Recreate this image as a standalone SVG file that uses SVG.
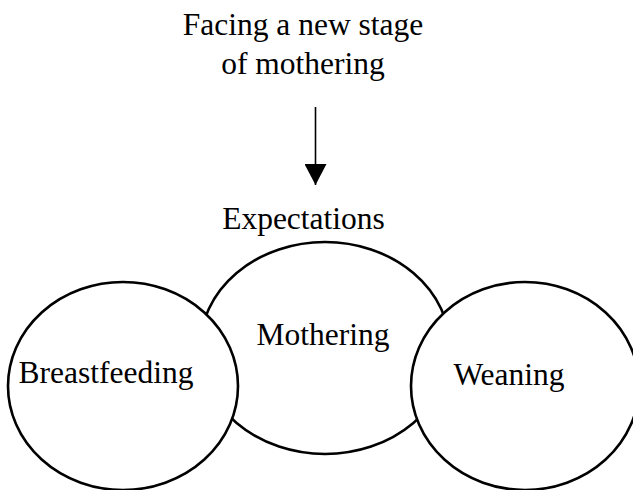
<svg xmlns="http://www.w3.org/2000/svg" width="633" height="490" viewBox="0 0 633 490">
<style>
text{font-family:"Liberation Serif","Times New Roman",serif;font-size:31.5px;fill:#000;text-anchor:middle}
.node{fill:#fff;stroke:#000;stroke-width:2.6}
</style>
<defs>
<marker id="ah" markerUnits="userSpaceOnUse" markerWidth="22" markerHeight="22" refX="21" refY="11" orient="auto">
<path d="M0,0 L21,11 L0,22 Z" fill="#000"/>
</marker>
</defs>
<rect width="633" height="490" fill="#fff"/>
<g id="title">
<text x="303" y="35">Facing a new stage</text>
<text x="303" y="74">of mothering</text>
</g>
<g id="connectors">
<line x1="315.5" y1="107" x2="315.5" y2="185" stroke="#000" stroke-width="1.6" marker-end="url(#ah)"/>
</g>
<g id="expectations">
<text x="303.5" y="229">Expectations</text>
</g>
<g id="mothering">
<ellipse class="node" cx="325" cy="348" rx="125" ry="106"/>
<text x="323" y="345">Mothering</text>
</g>
<g id="breastfeeding">
<ellipse class="node" cx="123" cy="386" rx="115" ry="104"/>
<text x="106" y="383">Breastfeeding</text>
</g>
<g id="weaning">
<ellipse class="node" cx="525" cy="386" rx="114" ry="104"/>
<text x="509" y="385">Weaning</text>
</g>
</svg>
